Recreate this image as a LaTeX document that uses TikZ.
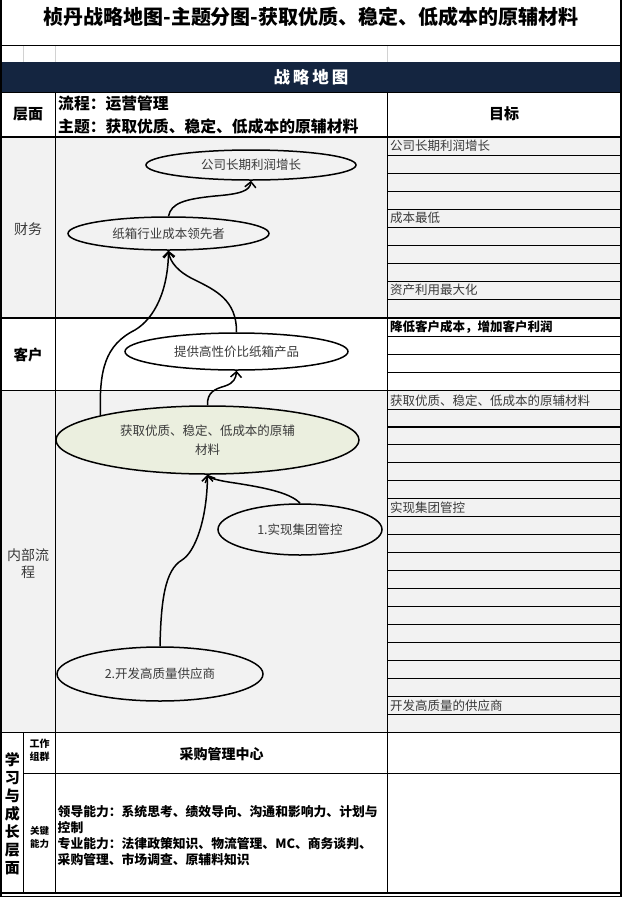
\documentclass[tikz,border=0pt]{standalone}
\usepackage{fontspec}
\setmainfont{Noto Sans CJK SC}
\usetikzlibrary{shapes.geometric,arrows.meta}
\definecolor{navy}{HTML}{142540}
\definecolor{cellgrey}{HTML}{F2F2F2}
\definecolor{ellfill}{HTML}{EBEFDF}
\definecolor{txtgrey}{HTML}{3A3A3A}
\tikzset{
  goal/.style={ellipse, draw, line width=1.5pt, inner sep=0pt, text=txtgrey,
    font=\fontsize{12.5}{19}\selectfont},
  rtxt/.style={anchor=west, inner sep=0pt, text=txtgrey, font=\fontsize{12.5}{15}\selectfont},
  link/.style={line width=1.5pt, -{Straight Barb[length=5.5pt,width=11pt,line width=1.5pt]}},
  thinrule/.style={line width=0.8pt},
  thickrule/.style={line width=1.7pt},
  plain/.style={inner sep=0pt}
}
\begin{document}
\begin{tikzpicture}[x=1pt,y=-1pt]
\useasboundingbox (0,0) rectangle (623,898);
% backgrounds
\fill[cellgrey] (1,137) rectangle (620.7,318);
\fill[cellgrey] (1,390.5) rectangle (620.7,732.5);
\fill[navy] (1,62) rectangle (620.7,92);
% faint lines in blank row
\draw[gray!35, line width=0.8pt] (23.8,45.5) -- (23.8,62) (55.6,45.5) -- (55.6,62) (387.5,45.5) -- (387.5,62);
% right column rule lines
\foreach \yy in {155,173,...,299} \draw[thinrule] (387.5,\yy) -- (620.7,\yy);
\foreach \yy in {336,354,372} \draw[thinrule] (387.5,\yy) -- (620.7,\yy);
\draw[thinrule] (387.5,409.3) -- (620.7,409.3);
\draw[thickrule] (387.5,426.7) -- (620.7,426.7);
\foreach \yy in {444.3,462.3,...,714.3} \draw[thinrule] (387.5,\yy) -- (620.7,\yy);
% main horizontal rules
\draw[thickrule] (0.8,45.5) -- (620.7,45.5);
\draw[thinrule] (0.8,92) -- (620.7,92);
\draw[thickrule] (0.8,137) -- (620.7,137);
\draw[thickrule] (0.8,318) -- (620.7,318);
\draw[thickrule] (0.8,390.5) -- (620.7,390.5);
\draw[thickrule] (0.8,732.5) -- (620.7,732.5);
\draw[thinrule] (23.8,773) -- (620.7,773);
\draw[thickrule] (0.8,893) -- (620.7,893);
\draw[thinrule] (0.8,896.8) -- (620.7,896.8);
% vertical rules
\draw[line width=1.2pt] (55.6,92) -- (55.6,893);
\draw[line width=1.2pt] (387.5,92) -- (387.5,893);
\draw[line width=1.2pt] (23.8,732.5) -- (23.8,893);
\draw[thickrule] (0.8,0) -- (0.8,897);
\draw[thickrule] (620.7,0) -- (620.7,897);

% title and headers
\node[plain, font=\bfseries\fontsize{20}{24}\selectfont] (title) at (311,17) {桢丹战略地图-主题分图-获取优质、稳定、低成本的原辅材料};
\node[plain, text=white, font=\bfseries\fontsize{16.5}{20}\selectfont] (bar) at (311,77) {战\hspace{3pt}略\hspace{3pt}地\hspace{3pt}图};
\node[plain, font=\bfseries\fontsize{15}{18}\selectfont] (hlayer) at (28.2,114) {层面};
\node[plain, anchor=west, font=\bfseries\fontsize{15.8}{18}\selectfont] (hproc) at (58,104) {流程：运营管理};
\node[plain, anchor=west, font=\bfseries\fontsize{15.8}{18}\selectfont] (htheme) at (58,126) {主题：获取优质、稳定、低成本的原辅材料};
\node[plain, font=\bfseries\fontsize{15}{18}\selectfont] (hgoal) at (504,114) {目标};

% left labels
\node[plain, text=txtgrey, font=\fontsize{14}{17}\selectfont] (lfin) at (28.2,229) {财务};
\node[plain, font=\bfseries\fontsize{14.5}{17}\selectfont] (lcus) at (28.2,355) {客户};
\node[plain, align=center, text=txtgrey, font=\fontsize{14}{17}\selectfont] (lint) at (28.2,563.5) {内部流\\程};
\node[plain, align=center, font=\bfseries\fontsize{15}{18}\selectfont] (llearn) at (12.4,814) {学\\习\\与\\成\\长\\层\\面};
\node[plain, align=center, font=\bfseries\fontsize{10}{13.5}\selectfont] (lgroup) at (39.7,750) {工作\\组群};
\node[plain, align=center, font=\bfseries\fontsize{9.5}{13}\selectfont] (lkey) at (39.7,837) {关键\\能力};

% learning contents
\node[plain, font=\bfseries\fontsize{14}{17}\selectfont] (center) at (221.5,754) {采购管理中心};
\node[plain, anchor=west, align=left, font=\bfseries\fontsize{12.8}{16}\selectfont] (skills) at (57.5,836) {领导能力：系统思考、绩效导向、沟通和影响力、计划与\\控制\\专业能力：法律政策知识、物流管理、MC、商务谈判、\\采购管理、市场调查、原辅料知识};

% right column goals
\node[rtxt] (g1) at (390,146) {公司长期利润增长};
\node[rtxt] (g2) at (390,218) {成本最低};
\node[rtxt] (g3) at (390,290) {资产利用最大化};
\node[rtxt, text=black, font=\bfseries\fontsize{12.5}{15}\selectfont] (g4) at (390,327) {降低客户成本，增加客户利润};
\node[rtxt] (g5) at (390,400.5) {获取优质、稳定、低成本的原辅材料};
\node[rtxt] (g6) at (390,507.3) {实现集团管控};
\node[rtxt] (g7) at (390,705.3) {开发高质量的供应商};

% ellipses
\node[goal, minimum width=210pt, minimum height=30pt] (n1) at (251,165) {公司长期利润增长};
\node[goal, minimum width=201pt, minimum height=33pt] (n2) at (168.5,233.5) {纸箱行业成本领先者};
\node[goal, fill=white, minimum width=223pt, minimum height=37pt] (n3) at (236.5,351.5) {提供高性价比纸箱产品};
\node[goal, fill=ellfill, align=center, minimum width=303pt, minimum height=68pt] (n4) at (207.5,440) {获取优质、稳定、低成本的原辅\\材料};
\node[goal, minimum width=164pt, minimum height=51pt] (n5) at (300,529.5) {1.实现集团管控};
\node[goal, minimum width=206pt, minimum height=54pt] (n6) at (160,674) {2.开发高质量供应商};

% connectors
\draw[link] (n2.north) .. controls (171,203) and (185,199) .. (215,196) .. controls (240,194) and (250,191) .. (n1.south);
\draw[link] (n4.167.5) .. controls (99,370) and (105,345) .. (135,330) .. controls (155,318) and (168,290) .. (n2.south);
\draw[link] (n3.north) .. controls (237,300) and (215,290) .. (195,280) .. controls (178,272) and (170,262) .. (n2.south);
\draw[link] (n4.north) .. controls (207,392) and (215,389) .. (225,386) .. controls (234,383) and (236,378) .. (n3.south);
\draw[link] (n5.north) .. controls (290,492) and (260,487) .. (235,483) .. controls (220,481) and (209,478) .. (n4.south);
\draw[link] (n6.north) .. controls (161,600) and (165,570) .. (182,560) .. controls (195,552) and (207,520) .. (n4.south);
\end{tikzpicture}
\end{document}
